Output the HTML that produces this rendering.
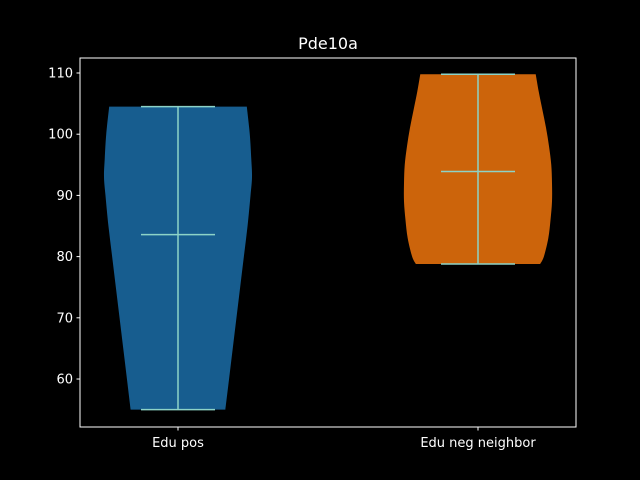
<!DOCTYPE html>
<html><head><meta charset="utf-8"><style>
body{margin:0;background:#000;}
svg{display:block;font-family:"DejaVu Sans","Liberation Sans",sans-serif;}
</style></head><body>
<svg id="chart" width="640" height="480" viewBox="0 0 640 480">
<rect width="640" height="480" fill="#000"/>
<text x="328" y="49" fill="#fff" font-size="16" text-anchor="middle">Pde10a</text>
<g id="violins"></g>
<g id="axes"></g>
</svg>
<script>
const categories = ["Edu pos", "Edu neg neighbor"];
const mins = [55.0, 78.8];
const maxs = [104.5, 109.8];
const means = [83.6, 93.9];
// density profile samples: value levels and relative half-widths (0..1)
const profileValues1 = [55.0, 60, 65, 70, 75, 80, 85, 90, 93, 96, 100, 104.5];
const profileWidths1 = [0.64, 0.69, 0.74, 0.79, 0.84, 0.89, 0.94, 0.98, 1.0, 0.99, 0.97, 0.93];
const profileValues2 = [78.8, 80, 83, 86, 89, 92, 95, 98, 101, 104, 107, 109.8];
const profileWidths2 = [0.84, 0.89, 0.95, 0.98, 1.0, 1.0, 0.99, 0.96, 0.92, 0.87, 0.82, 0.78];
const yTicks = [60, 70, 80, 90, 100, 110];
const colors = ["#175d8f", "#cc640b"];
const NS = "http://www.w3.org/2000/svg";
const L = 80, R = 576, T = 58, B = 427;
const yMin = 52.16, yMax = 112.45;
function y(v){ return B - (v - yMin) / (yMax - yMin) * (B - T); }
const centers = [178, 478];
function cx(i){ return centers[i]; }
const maxHalf = 74, capHalf = 37;
function mk(tag, attrs, parent){ const e = document.createElementNS(NS, tag); for (const k in attrs) e.setAttribute(k, attrs[k]); parent.appendChild(e); return e; }
function smooth(pts){
  let d = "M" + pts[0][0] + "," + pts[0][1];
  for (let k = 1; k < pts.length; k++){
    const p0 = pts[Math.max(k-2,0)], p1 = pts[k-1], p2 = pts[k], p3 = pts[Math.min(k+1,pts.length-1)];
    const c1 = [p1[0] + (p2[0]-p0[0])/6, p1[1] + (p2[1]-p0[1])/6];
    const c2 = [p2[0] - (p3[0]-p1[0])/6, p2[1] - (p3[1]-p1[1])/6];
    d += "C" + c1[0] + "," + c1[1] + " " + c2[0] + "," + c2[1] + " " + p2[0] + "," + p2[1];
  }
  return d;
}
const vg = document.getElementById("violins");
const profiles = [[profileValues1, profileWidths1], [profileValues2, profileWidths2]];
categories.forEach((c, i) => {
  const [pv, pw] = profiles[i];
  const right = pv.map((v, k) => [cx(i) + pw[k]*maxHalf, y(v)]);
  const left = pv.map((v, k) => [cx(i) - pw[k]*maxHalf, y(v)]).reverse();
  let d = smooth(right) + "L" + smooth(left).slice(1) + "Z";
  const p = mk("path", {d: d, fill: colors[i]}, vg);
  
  
  const st = {stroke: "#8dd3c7", "stroke-width": 1.5};
  const vl = mk("line", Object.assign({x1: cx(i), x2: cx(i), y1: y(mins[i]), y2: y(maxs[i])}, st), vg);
  
  
  [[mins[i], 'violin-min-cap'], [maxs[i], 'violin-max-cap'], [means[i], 'violin-mean-line']].forEach(([v, n]) => {
    const l = mk("line", Object.assign({x1: cx(i) - capHalf, x2: cx(i) + capHalf, y1: y(v), y2: y(v)}, st), vg);
    
    
  });
});
const ag = document.getElementById("axes");
const frame = mk("rect", {x: L, y: T, width: R - L, height: B - T, fill: "none", stroke: "#fff", "stroke-width": 1}, ag);


yTicks.forEach(t => {
  const tl = mk("line", {x1: L - 3.5, x2: L, y1: y(t), y2: y(t), stroke: "#fff"}, ag);
  
  
  const tx = mk("text", {x: L - 7, y: y(t) + 4.5, fill: "#fff", "font-size": 13, "text-anchor": "end"}, ag);
  tx.textContent = t;
  
  
});
categories.forEach((c, i) => {
  const tl = mk("line", {x1: cx(i), x2: cx(i), y1: B, y2: B + 3.5, stroke: "#fff"}, ag);
  
  
  const tx = mk("text", {x: cx(i), y: B + 20, fill: "#fff", "font-size": 13, "text-anchor": "middle"}, ag);
  tx.textContent = c;
  
  
});
</script>
</body></html>
